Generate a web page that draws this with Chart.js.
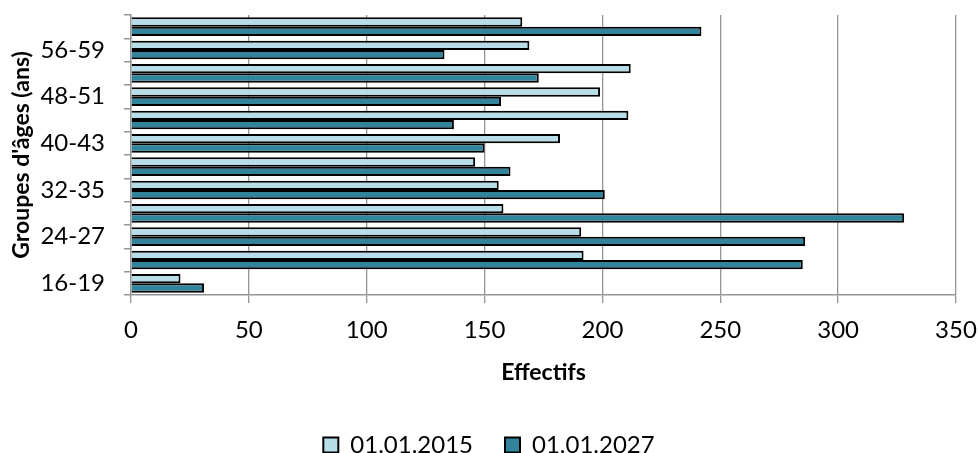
<!DOCTYPE html>
<html>
<head>
<meta charset="utf-8">
<script src="https://cdn.jsdelivr.net/npm/chart.js@4/dist/chart.umd.min.js"></script>
<style>
    html, body { margin: 0; padding: 0; background: #fff; }
    #wrap { width: 978px; height: 453px; }
</style>
</head>
<body>
<div id="wrap"><canvas id="chart"></canvas></div>
<script>
// Data (top to bottom, as drawn)
const ageGroups = ['60-63', '56-59', '52-55', '48-51', '44-47', '40-43', '36-39', '32-35', '28-31', '24-27', '20-23', '16-19'];
const effectifs2015 = [166, 169, 212, 199, 211, 182, 146, 156, 158, 191, 192, 21];
const effectifs2027 = [242, 133, 173, 157, 137, 150, 161, 201, 328, 286, 285, 31];
const seriesNames = ['01.01.2015', '01.01.2027'];
const xMin = 0;
const xMax = 350;
const xStep = 50;

// Colours
const lightBlue = '#B7DEE8';
const darkBlue = '#31849B';
const axisGray = '#959595';
const fontFamily = 'Lato, "Open Sans", sans-serif';

const ctx = document.getElementById('chart');

new Chart(ctx, {
    type: 'bar',
    data: {
        labels: ageGroups,
        datasets: [
            {
                label: seriesNames[0],
                data: effectifs2015,
                backgroundColor: lightBlue,
                borderColor: '#000',
                borderWidth: 2,
                barPercentage: 1,
                categoryPercentage: 0.8
            },
            {
                label: seriesNames[1],
                data: effectifs2027,
                backgroundColor: darkBlue,
                borderColor: '#000',
                borderWidth: 2,
                barPercentage: 1,
                categoryPercentage: 0.8
            }
        ]
    },
    options: {
        indexAxis: 'y',
        responsive: true,
        maintainAspectRatio: false,
        animation: false,
        layout: {
            padding: { top: 15, right: 0, left: 0, bottom: 0 }
        },
        plugins: {
            tooltip: { enabled: false },
            legend: {
                position: 'bottom',
                maxHeight: 52,
                labels: {
                    color: '#000',
                    boxWidth: 15,
                    boxHeight: 15,
                    padding: 32,
                    font: { family: fontFamily, size: 24 }
                }
            }
        },
        scales: {
            x: {
                min: xMin,
                max: xMax,
                ticks: {
                    stepSize: xStep,
                    color: '#000',
                    padding: 13,
                    font: { family: fontFamily, size: 24 }
                },
                grid: {
                    color: axisGray,
                    lineWidth: 1.3,
                    tickLength: 8
                },
                border: { color: axisGray, width: 1.5 },
                title: {
                    display: true,
                    text: 'Effectifs',
                    color: '#000',
                    padding: { top: 0, bottom: 15 },
                    font: { family: fontFamily, size: 23, weight: 'bold' }
                },
                afterFit: (scale) => {
                    scale.height = 106;
                    scale.paddingLeft = 0;
                    scale.paddingRight = 22;
                }
            },
            y: {
                ticks: {
                    autoSkip: false,
                    color: '#000',
                    padding: 19,
                    font: { family: fontFamily, size: 24 },
                    callback: function (value, index) {
                        return index % 2 === 1 ? this.getLabelForValue(value) : '';
                    }
                },
                grid: {
                    offset: true,
                    drawOnChartArea: false,
                    color: axisGray,
                    lineWidth: 1.5,
                    tickLength: 7
                },
                border: { color: axisGray, width: 1.5 },
                title: {
                    display: true,
                    text: "Groupes d'âges (ans)",
                    color: '#000',
                    padding: { top: 8, bottom: 0 },
                    font: { family: fontFamily, size: 23, weight: 'bold' }
                },
                afterFit: (scale) => {
                    scale.width = 131;
                    scale.paddingTop = 0;
                    scale.paddingBottom = 0;
                }
            }
        }
    }
});
</script>
</body>
</html>
